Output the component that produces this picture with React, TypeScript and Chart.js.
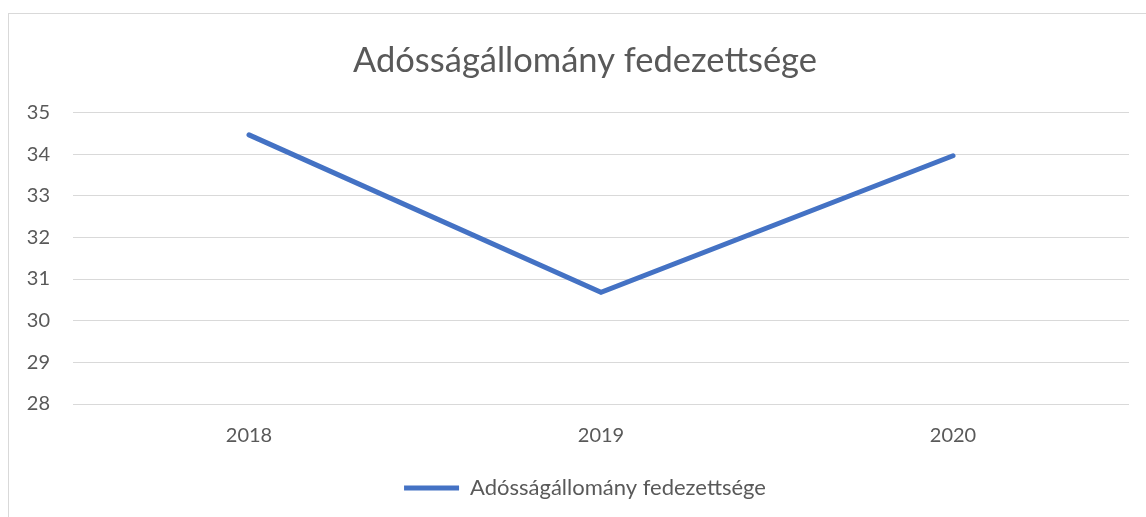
import React, { useEffect, useRef } from "react";
import { Chart, registerables } from "chart.js";

Chart.register(...registerables);

const title = "Adósságállomány fedezettsége";
const categories = ["2018", "2019", "2020"];
const seriesName = "Adósságállomány fedezettsége";
const values = [34.46, 30.68, 33.96];
const yMin = 28;
const yMax = 35;

const FONT = "Lato, 'Noto Sans', sans-serif";

export default function App() {
  const ref = useRef<HTMLCanvasElement | null>(null);
  useEffect(() => {
    if (!ref.current) return;
    const chart = new Chart(ref.current, {
      type: "line",
      data: {
        labels: categories,
        datasets: [
          {
            label: seriesName,
            data: values,
            borderColor: "#4472C4",
            backgroundColor: "#4472C4",
            borderWidth: 5,
            borderCapStyle: "round",
            borderJoinStyle: "miter",
            pointRadius: 0,
            pointHoverRadius: 0,
            tension: 0,
          },
        ],
      },
      options: {
        animation: false,
        responsive: false,
        maintainAspectRatio: false,
        layout: { padding: { left: 0, right: 0, top: 0, bottom: 19 } },
        plugins: {
          title: {
            display: true,
            text: title,
            color: "#595959",
            font: { family: FONT, size: 34.5, weight: "normal" },
            padding: { top: 26, bottom: 31 },
          },
          legend: {
            position: "bottom",
            labels: {
              usePointStyle: true,
              pointStyle: "line",
              pointStyleWidth: 55,
              boxHeight: 5,
              color: "#595959",
              font: { family: FONT, size: 22 },
              padding: 9,
            },
          },
          tooltip: { enabled: false },
        },
        scales: {
          x: {
            offset: true,
            grid: { display: false, drawTicks: false },
            border: { display: false },
            ticks: {
              color: "#595959",
              font: { family: FONT, size: 20 },
              padding: 20,
            },
          },
          y: {
            min: yMin,
            max: yMax,
            afterFit: (s: any) => {
              s.width = 64;
            },
            grid: { color: "#d9d9d9", lineWidth: 1, drawTicks: false },
            border: { display: false },
            ticks: {
              stepSize: 1,
              color: "#595959",
              font: { family: FONT, size: 20 },
              padding: 23,
            },
          },
          yRight: {
            position: "right",
            min: yMin,
            max: yMax,
            afterFit: (s: any) => {
              s.width = 32;
            },
            grid: { display: false, drawTicks: false },
            border: { display: false },
            ticks: { display: false },
          },
        },
      },
    });
    return () => chart.destroy();
  }, []);
  return (
    <div
      style={{
        position: "fixed",
        left: 0,
        top: 0,
        width: 1146,
        height: 517,
        overflow: "hidden",
        background: "#fff",
      }}
    >
      <div
        style={{
          position: "absolute",
          left: 8,
          top: 13,
          width: 1152,
          height: 514,
          border: "1px solid #d9d9d9",
        }}
      >
        <canvas ref={ref} width={1152} height={514} style={{ display: "block" }} />
      </div>
    </div>
  );
}
